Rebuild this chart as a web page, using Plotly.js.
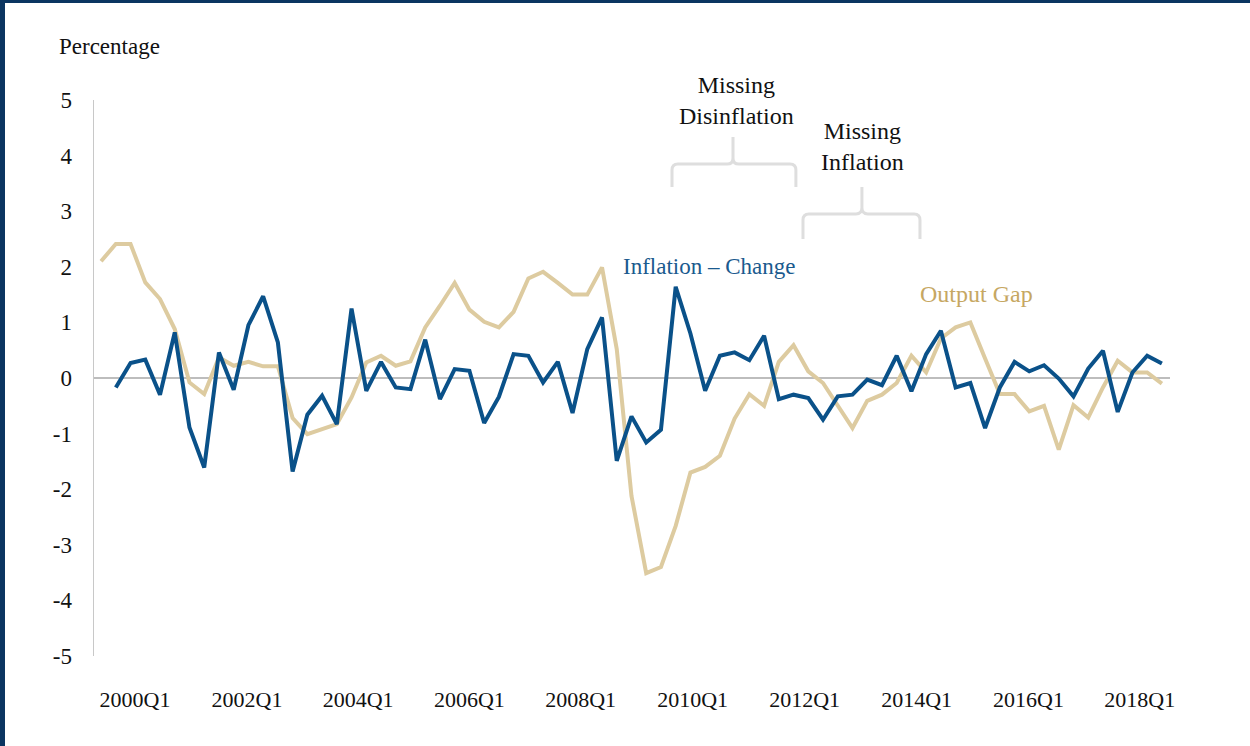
<!DOCTYPE html>
<html>
<head>
<meta charset="utf-8">
<script src="https://cdn.plot.ly/plotly-3.0.1.min.js"></script>
<style>
  html, body { margin: 0; padding: 0; background: #ffffff; }
  #wrap { position: relative; width: 1250px; height: 746px; overflow: hidden; }
  #chart { position: absolute; left: 0; top: 0; width: 1250px; height: 746px; }
  .bt { position: absolute; left: 0; top: 0; width: 1250px; height: 3px; background: #0b3561; }
  .bl { position: absolute; left: 0; top: 0; width: 5px; height: 746px; background: #0b3561; }
</style>
</head>
<body>
<div id="wrap">
  <div id="chart"></div>
  <div class="bt"></div>
  <div class="bl"></div>
</div>
<script>
// Output gap (tan), one value per quarter
const outputGap = [
  2.10, 2.41, 2.41, 1.72, 1.42, 0.88, -0.08, -0.29, 0.37, 0.22,
  0.29, 0.21, 0.21, -0.72, -1.01, -0.92, -0.83, -0.35, 0.28, 0.40,
  0.22, 0.30, 0.91, 1.30, 1.71, 1.23, 1.01, 0.91, 1.19, 1.79,
  1.91, 1.71, 1.50, 1.50, 1.99, 0.52, -2.12, -3.51, -3.40, -2.66,
  -1.70, -1.60, -1.40, -0.73, -0.29, -0.50, 0.29, 0.59, 0.12, -0.09,
  -0.50, -0.90, -0.41, -0.30, -0.09, 0.40, 0.10, 0.71, 0.91, 1.00,
  0.35, -0.29, -0.29, -0.60, -0.50, -1.29, -0.49, -0.71, -0.17, 0.31,
  0.10, 0.10, -0.10
];
// Inflation – change (blue); starts one quarter after the output gap
const inflationChange = [
  null, -0.17, 0.27, 0.33, -0.30, 0.82, -0.89, -1.61, 0.46, -0.21,
  0.95, 1.47, 0.64, -1.68, -0.66, -0.32, -0.83, 1.25, -0.23, 0.29,
  -0.17, -0.20, 0.69, -0.38, 0.16, 0.13, -0.81, -0.34, 0.43, 0.40,
  -0.08, 0.29, -0.63, 0.52, 1.09, -1.49, -0.69, -1.16, -0.93, 1.64,
  0.80, -0.23, 0.40, 0.46, 0.32, 0.76, -0.38, -0.30, -0.36, -0.75,
  -0.33, -0.30, -0.03, -0.13, 0.40, -0.24, 0.43, 0.85, -0.17, -0.09,
  -0.90, -0.17, 0.29, 0.12, 0.23, -0.01, -0.33, 0.17, 0.49, -0.61,
  0.10, 0.40, 0.26
];
const tickLabels = ["2000Q1","2002Q1","2004Q1","2006Q1","2008Q1","2010Q1","2012Q1","2014Q1","2016Q1","2018Q1"];
const tickPositions = [2.3, 9.9, 17.45, 25.0, 32.55, 40.15, 47.75, 55.35, 62.95, 70.5];
const yTicks = [-5, -4, -3, -2, -1, 0, 1, 2, 3, 4, 5];
const yTickLabels = ["-5", "-4", "-3", "-2", "-1", "0", "1", "2", "3", "4", "5"];

const xIdx = outputGap.map((_, i) => i);

const BLUE = "#0a5189";
const TAN = "#ddcba0";
const FONT = "'Liberation Serif', 'DejaVu Serif', serif";
const GRAYB = "#dedede";

const traces = [
  { x: xIdx, y: outputGap, type: "scatter", mode: "lines", name: "Output Gap",
    line: { color: TAN, width: 4 }, hoverinfo: "skip" },
  { x: xIdx, y: inflationChange, type: "scatter", mode: "lines", name: "Inflation – Change",
    line: { color: BLUE, width: 4 }, connectgaps: false, hoverinfo: "skip" }
];

function brace(x0, x1, xt, yb, ybar, ytop) {
  const rx = 0.4, ry = 0.11;
  return "M " + x0 + "," + yb + " L " + x0 + "," + (ybar - ry) +
    " Q " + x0 + "," + ybar + " " + (x0 + rx) + "," + ybar +
    " L " + (xt - rx) + "," + ybar +
    " Q " + xt + "," + ybar + " " + xt + "," + (ybar + ry) +
    " L " + xt + "," + ytop +
    " M " + xt + "," + (ybar + ry) +
    " Q " + xt + "," + ybar + " " + (xt + rx) + "," + ybar +
    " L " + (x1 - rx) + "," + ybar +
    " Q " + x1 + "," + ybar + " " + x1 + "," + (ybar - ry) +
    " L " + x1 + "," + yb;
}

const layout = {
  width: 1250, height: 746,
  margin: { l: 94, r: 80, t: 100, b: 90 },
  paper_bgcolor: "#ffffff", plot_bgcolor: "#ffffff",
  showlegend: false,
  font: { family: FONT, color: "#111111", size: 20 },
  xaxis: {
    range: [-0.48, 72.55],
    showgrid: false, zeroline: false, showline: false,
    tickmode: "array", tickvals: tickPositions, ticktext: tickLabels,
    ticks: "", ticklabelstandoff: 28,
    tickfont: { family: FONT, size: 22, color: "#111111" }
  },
  yaxis: {
    range: [-5, 5],
    showgrid: false,
    zeroline: true, zerolinecolor: "#bdbdbd", zerolinewidth: 1.5,
    showline: true, linecolor: "#c8c8c8", linewidth: 1.5,
    tickmode: "array", tickvals: yTicks, ticktext: yTickLabels,
    ticks: "", ticklabelstandoff: 16,
    tickfont: { family: FONT, size: 23, color: "#111111" }
  },
  shapes: [
    { type: "path", xref: "x", yref: "y", path: brace(38.75, 47.16, 42.89, 3.435, 3.849, 4.335),
      line: { color: GRAYB, width: 3 } },
    { type: "path", xref: "x", yref: "y", path: brace(47.64, 55.58, 51.64, 2.50, 2.95, 3.435),
      line: { color: GRAYB, width: 3 } }
  ],
  annotations: [
    { text: "Percentage", xref: "paper", yref: "paper", x: -0.0344, y: 1.097,
      xanchor: "left", yanchor: "middle", showarrow: false,
      font: { family: FONT, size: 23, color: "#111111" } },
    { text: "Missing<br>Disinflation", xref: "x", yref: "paper", x: 43.16, y: 1.0,
      xanchor: "center", yanchor: "middle", showarrow: false, align: "center",
      font: { family: FONT, size: 24, color: "#111111" } },
    { text: "Missing<br>Inflation", xref: "x", yref: "y", x: 51.71, y: 4.17,
      xanchor: "center", yanchor: "middle", showarrow: false, align: "center",
      font: { family: FONT, size: 24, color: "#111111" } },
    { text: "Inflation – Change", xref: "x", yref: "y", x: 41.26, y: 2.0,
      xanchor: "center", yanchor: "middle", showarrow: false,
      font: { family: FONT, size: 23, color: "#1a5a8e" } },
    { text: "Output Gap", xref: "x", yref: "y", x: 59.45, y: 1.51,
      xanchor: "center", yanchor: "middle", showarrow: false,
      font: { family: FONT, size: 24, color: "#c6a762" } }
  ]
};

Plotly.newPlot("chart", traces, layout, { displayModeBar: false, staticPlot: true });
</script>
</body>
</html>
